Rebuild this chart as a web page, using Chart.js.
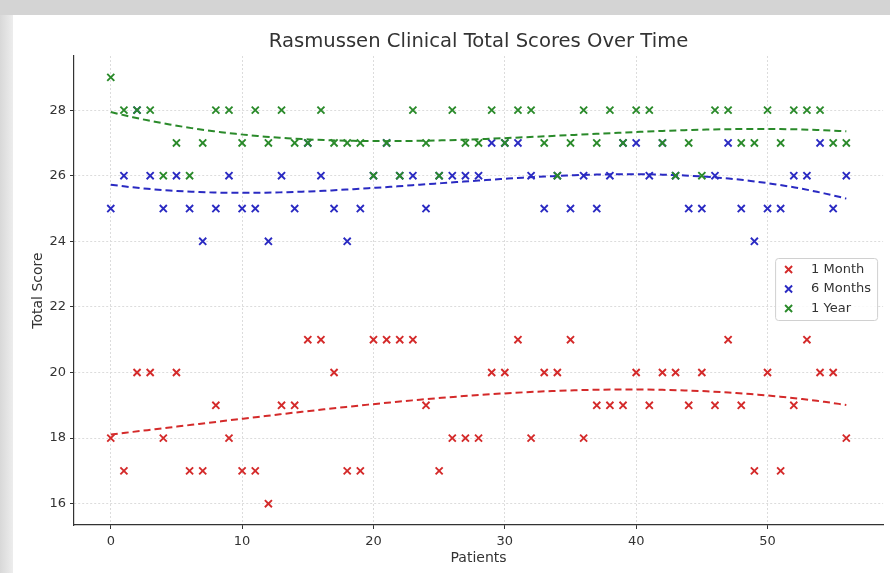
<!DOCTYPE html>
<html><head><meta charset="utf-8">
<script src="https://cdn.jsdelivr.net/npm/chart.js@4.4.0/dist/chart.umd.min.js"></script>
<style>
html,body{margin:0;padding:0;}
body{width:890px;height:573px;position:relative;overflow:hidden;background:#fff;}
#topband{position:absolute;left:0;top:0;width:890px;height:15px;background:#d4d4d4;}
#leftband{position:absolute;left:0;top:15px;width:13px;height:558px;background:linear-gradient(to right,#d8d8d8,#ededed);}
#wrap{position:absolute;left:0;top:0;width:890px;height:573px;}
</style></head><body>
<div id="topband"></div><div id="leftband"></div>
<div id="wrap"><canvas id="c" width="890" height="573"></canvas></div>
<script>
const patients = [0,1,2,3,4,5,6,7,8,9,10,11,12,13,14,15,16,17,18,19,20,21,22,23,24,25,26,27,28,29,30,31,32,33,34,35,36,37,38,39,40,41,42,43,44,45,46,47,48,49,50,51,52,53,54,55,56];
const month1 = [18,17,20,20,18,20,17,17,19,18, 17,17,16,19,19,21,21,20,17,17, 21,21,21,21,19,17,18,18,18,20, 20,21,18,20,20,21,18,19,19,19, 20,19,20,20,19,20,19,21,19,17, 20,17,19,21,20,20,18];
const months6 = [25,26,28,26,25,26,25,24,25,26, 25,25,24,26,25,27,26,25,24,25, 26,27,26,26,25,26,26,26,26,27, 27,27,26,25,26,25,26,25,26,27, 27,26,27,26,25,25,26,27,25,24, 25,25,26,26,27,25,26];
const year1 = [29,28,28,28,26,27,26,27,28,28, 27,28,27,28,27,27,28,27,27,27, 26,27,26,28,27,26,28,27,27,28, 27,28,28,27,26,27,28,27,28,27, 28,28,27,26,27,26,28,28,27,27, 28,27,28,28,28,27,27];
const seriesNames = ['1 Month','6 Months','1 Year'];
const xTicks = [0,10,20,30,40,50];
const yTicks = [16,18,20,22,24,26,28];

const COLORS = ['#d42a2a','#2a2ac2','#2a8a2a'];

function polyfit(xs, ys, deg){
  const n = deg+1;
  const A = []; const b = [];
  for(let i=0;i<n;i++){A.push(new Array(n).fill(0)); b.push(0);}
  for(let k=0;k<xs.length;k++){
    for(let i=0;i<n;i++){
      for(let j=0;j<n;j++) A[i][j]+=Math.pow(xs[k],i+j);
      b[i]+=ys[k]*Math.pow(xs[k],i);
    }
  }
  for(let c=0;c<n;c++){
    let p=c; for(let r=c+1;r<n;r++) if(Math.abs(A[r][c])>Math.abs(A[p][c])) p=r;
    [A[c],A[p]]=[A[p],A[c]]; [b[c],b[p]]=[b[p],b[c]];
    for(let r=c+1;r<n;r++){const f=A[r][c]/A[c][c]; for(let j=c;j<n;j++) A[r][j]-=f*A[c][j]; b[r]-=f*b[c];}
  }
  const co=new Array(n).fill(0);
  for(let i=n-1;i>=0;i--){let s=b[i]; for(let j=i+1;j<n;j++) s-=A[i][j]*co[j]; co[i]=s/A[i][i];}
  return co;
}
function trend(ys){
  const co = polyfit(patients, ys, 3);
  const pts=[]; const lo=patients[0], hi=patients[patients.length-1];
  for(let i=0;i<=100;i++){const x=lo+(hi-lo)*i/100; let y=0; for(let k=co.length-1;k>=0;k--) y=y*x+co[k]; pts.push({x,y});}
  return pts;
}
const allSeries=[month1,months6,year1];
const datasets=[];
allSeries.forEach((s,i)=>{
  datasets.push({type:'scatter',label:seriesNames[i],data:patients.map((p,j)=>({x:p,y:s[j]})),
    pointStyle:'crossRot',pointRadius:5,pointHoverRadius:5,borderColor:COLORS[i],backgroundColor:COLORS[i],borderWidth:1.9,order:5-2*i});
  datasets.push({type:'line',label:seriesNames[i]+' trend',data:trend(s),borderColor:COLORS[i],borderWidth:2,
    borderDash:[7,4],pointRadius:0,fill:false,tension:0,order:4-2*i});
});

const boxLegend={id:'boxLegend',afterDraw(chart){
  const ctx=chart.ctx,a=chart.chartArea;
  const w=102,h=62;const bx=a.right-108,by=(a.top+a.bottom)/2-h/2-1.5;
  ctx.save();
  ctx.fillStyle='rgba(255,255,255,0.85)';ctx.strokeStyle='#d0d0d0';ctx.lineWidth=1;
  ctx.beginPath();ctx.roundRect(bx+0.5,by+0.5,w,h,3);ctx.fill();ctx.stroke();
  ctx.font='13px "DejaVu Sans"';ctx.textBaseline='middle';ctx.textAlign='left';
  seriesNames.forEach((n,i)=>{
    const cy=by+11.5+i*19.5, cx=bx+13.5;
    ctx.strokeStyle=COLORS[i];ctx.lineWidth=1.9;ctx.beginPath();
    ctx.moveTo(cx-3.5,cy-3.5);ctx.lineTo(cx+3.5,cy+3.5);ctx.moveTo(cx+3.5,cy-3.5);ctx.lineTo(cx-3.5,cy+3.5);ctx.stroke();
    ctx.fillStyle='#333';ctx.fillText(n,bx+36,cy);
  });
  ctx.restore();
}};

new Chart(document.getElementById('c'),{
  type:'scatter',
  data:{datasets},
  plugins:[boxLegend],
  options:{
    responsive:false,animation:false,
    layout:{padding:{left:0,right:5,top:0,bottom:0}},
    plugins:{
      legend:{display:false},tooltip:{enabled:false},
      title:{display:true,text:'Rasmussen Clinical Total Scores Over Time',fullSize:false,color:'#333',
        font:{family:'"DejaVu Sans"',size:19.6,weight:'normal',lineHeight:1.2},padding:{top:30.5,bottom:2}}
    },
    scales:{
      x:{type:'linear',min:-2.8,max:58.8,
        afterBuildTicks:s=>{s.ticks=xTicks.map(v=>({value:v}));},
        afterFit:s=>{s.height=48;},
        ticks:{color:'#333',font:{family:'"DejaVu Sans"',size:13},padding:5,maxRotation:0},
        grid:{color:'#dcdcdc',lineWidth:1,drawTicks:true,tickLength:4,tickColor:'#333',tickWidth:1,tickBorderDash:[]},
        border:{display:true,color:'#333',width:1.2,dash:[2,2]},
        title:{display:true,text:'Patients',color:'#333',font:{family:'"DejaVu Sans"',size:14},padding:{top:7,bottom:6}}
      },
      y:{type:'linear',min:15.35,max:29.65,
        afterBuildTicks:s=>{s.ticks=yTicks.map(v=>({value:v}));},
        afterFit:s=>{s.width=74;},
        ticks:{color:'#333',font:{family:'"DejaVu Sans"',size:13},padding:4},
        grid:{color:'#dcdcdc',lineWidth:1,drawTicks:true,tickLength:4,tickColor:'#333',tickWidth:1,tickBorderDash:[]},
        border:{display:true,color:'#333',width:1.2,dash:[2,2]},
        title:{display:true,text:'Total Score',color:'#333',font:{family:'"DejaVu Sans"',size:14},padding:{top:30,bottom:0}}
      }
    }
  }
});
</script>
</body></html>
